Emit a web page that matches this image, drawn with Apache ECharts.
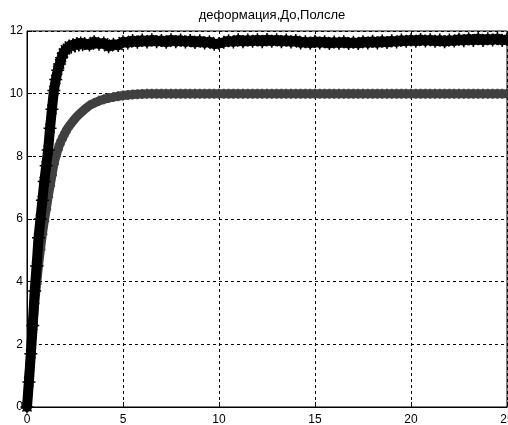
<!DOCTYPE html>
<html>
<head>
<meta charset="utf-8">
<script src="https://cdn.jsdelivr.net/npm/echarts@6/dist/echarts.min.js"></script>
<style>html,body{margin:0;padding:0;background:#fff}#c{width:508px;height:425px}</style>
</head>
<body>
<div id="c"></div>
<script>
const titleText = 'деформация,До,Полсле';
const xTicks = [0, 5, 10, 15, 20, 25];
const yTicks = [0, 2, 4, 6, 8, 10, 12];

const xs = [
  0, 0.1, 0.2, 0.3, 0.4, 0.5, 0.6, 0.7, 0.8, 0.9,
  1.0, 1.1, 1.2, 1.3, 1.4, 1.5, 1.6, 1.7, 1.8, 1.9,
  2.0, 2.1, 2.2, 2.3, 2.4, 2.5, 2.6, 2.7, 2.8, 2.9, 3.0,
  3.25, 3.5, 3.75, 4.0, 4.25, 4.5, 4.75, 5.0, 5.25, 5.5, 5.75, 6.0,
  6.25, 6.5, 6.75, 7.0, 7.25, 7.5, 7.75, 8.0, 8.25, 8.5, 8.75, 9.0,
  9.25, 9.5, 9.75, 10.0, 10.25, 10.5, 10.75, 11.0, 11.25, 11.5, 11.75, 12.0,
  12.25, 12.5, 12.75, 13.0, 13.25, 13.5, 13.75, 14.0, 14.25, 14.5, 14.75, 15.0,
  15.25, 15.5, 15.75, 16.0, 16.25, 16.5, 16.75, 17.0, 17.25, 17.5, 17.75, 18.0,
  18.25, 18.5, 18.75, 19.0, 19.25, 19.5, 19.75, 20.0, 20.25, 20.5, 20.75, 21.0,
  21.25, 21.5, 21.75, 22.0, 22.25, 22.5, 22.75, 23.0, 23.25, 23.5, 23.75, 24.0,
  24.25, 24.5, 24.75, 25.0
];

// "До" - black asterisk series
const blackY = [
  0, 0.8, 1.7, 2.6, 3.7, 4.5, 5.4, 6.0, 6.6, 7.2,
  7.7, 8.2, 8.9, 9.5, 10.1, 10.45, 10.75, 10.95, 11.15, 11.3,
  11.4, 11.45, 11.52, 11.48, 11.56, 11.52, 11.6, 11.55, 11.62, 11.56, 11.6,
  11.55, 11.66, 11.58, 11.62, 11.50, 11.58, 11.54, 11.66, 11.62, 11.70, 11.64, 11.71,
  11.65, 11.72, 11.66, 11.70, 11.64, 11.72, 11.66, 11.71, 11.65, 11.70, 11.63, 11.69,
  11.62, 11.66, 11.58, 11.60, 11.64, 11.69, 11.65, 11.72, 11.66, 11.71, 11.67, 11.72,
  11.66, 11.73, 11.67, 11.72, 11.66, 11.71, 11.65, 11.70, 11.62, 11.66, 11.61, 11.67,
  11.62, 11.66, 11.60, 11.65, 11.61, 11.66, 11.60, 11.64, 11.60, 11.66, 11.62, 11.67,
  11.62, 11.68, 11.63, 11.69, 11.65, 11.71, 11.67, 11.72, 11.67, 11.73, 11.68, 11.72,
  11.67, 11.71, 11.66, 11.71, 11.68, 11.74, 11.69, 11.75, 11.70, 11.76, 11.70, 11.75,
  11.71, 11.76, 11.70, 11.73
];

// "После" - gray plus series
const grayY = [
  0, 0.95, 1.81, 2.59, 3.30, 3.93, 4.51, 5.03, 5.51, 5.93,
  6.30, 6.70, 7.05, 7.40, 7.75, 8.00, 8.20, 8.38, 8.52, 8.65,
  8.77, 8.88, 8.97, 9.05, 9.13, 9.20, 9.27, 9.33, 9.39, 9.45, 9.50,
  9.62, 9.70, 9.77, 9.82, 9.86, 9.89, 9.92, 9.94, 9.96, 9.97, 9.98, 9.99,
  10, 10, 10, 10, 10, 10, 10, 10, 10, 10, 10, 10,
  10, 10, 10, 10, 10, 10, 10, 10, 10, 10, 10, 10,
  10, 10, 10, 10, 10, 10, 10, 10, 10, 10, 10, 10,
  10, 10, 10, 10, 10, 10, 10, 10, 10, 10, 10, 10,
  10, 10, 10, 10, 10, 10, 10, 10, 10, 10, 10, 10,
  10, 10, 10, 10, 10, 10, 10, 10, 10, 10, 10, 10,
  10, 10, 10, 10
];

const pairs = (ys) => xs.map((x, i) => [x, ys[i]]);
const asterisk = 'path://M5,0L5,10M0,5L10,5M1.5,1.5L8.5,8.5M1.5,8.5L8.5,1.5';
const plusSym = 'path://M5,0L5,10M0,5L10,5';
const FONT = 'Liberation Sans, Arial, sans-serif';

const chart = echarts.init(document.getElementById('c'), null, {renderer: 'canvas'});
chart.setOption({
  animation: false,
  backgroundColor: '#ffffff',
  title: {
    text: titleText,
    left: 267, top: 4, textAlign: 'center',
    textStyle: {fontFamily: FONT, fontSize: 13, fontWeight: 'normal', color: '#000'}
  },
  grid: {left: 27, right: 1, top: 31, bottom: 18, containLabel: false, outerBoundsMode: 'none',
         show: true, borderColor: '#000', borderWidth: 1, backgroundColor: '#fff'},
  xAxis: {
    type: 'value', min: xTicks[0], max: xTicks[xTicks.length - 1], interval: 5,
    axisLine: {show: true, onZero: false, lineStyle: {color: '#000', width: 1}},
    axisTick: {show: true, inside: true, length: 5, lineStyle: {color: '#000'}},
    axisLabel: {color: '#000', fontFamily: FONT, fontSize: 12, margin: 7, showMaxLabel: true},
    splitLine: {show: true, lineStyle: {color: '#000', width: 1, type: [3, 3]}}
  },
  yAxis: {
    type: 'value', min: yTicks[0], max: yTicks[yTicks.length - 1], interval: 2,
    axisLine: {show: true, onZero: false, lineStyle: {color: '#000', width: 1}},
    axisTick: {show: true, inside: true, length: 5, lineStyle: {color: '#000'}},
    axisLabel: {color: '#000', fontFamily: FONT, fontSize: 12, margin: 4},
    splitLine: {show: true, lineStyle: {color: '#000', width: 1, type: [3, 3]}}
  },
  series: [
    {
      name: 'После', type: 'line', data: pairs(grayY),
      symbol: plusSym, symbolSize: 10, showSymbol: true,
      itemStyle: {color: '#404040', borderColor: '#404040', borderWidth: 2},
      lineStyle: {color: '#404040', width: 9, join: 'round', cap: 'round'},
      z: 2
    },
    {
      name: 'До', type: 'line', data: pairs(blackY),
      symbol: asterisk, symbolSize: 13, showSymbol: true,
      itemStyle: {color: '#000', borderColor: '#000', borderWidth: 1.5},
      lineStyle: {color: '#000', width: 10, join: 'round', cap: 'round'},
      z: 3
    }
  ]
});
</script>
</body>
</html>
